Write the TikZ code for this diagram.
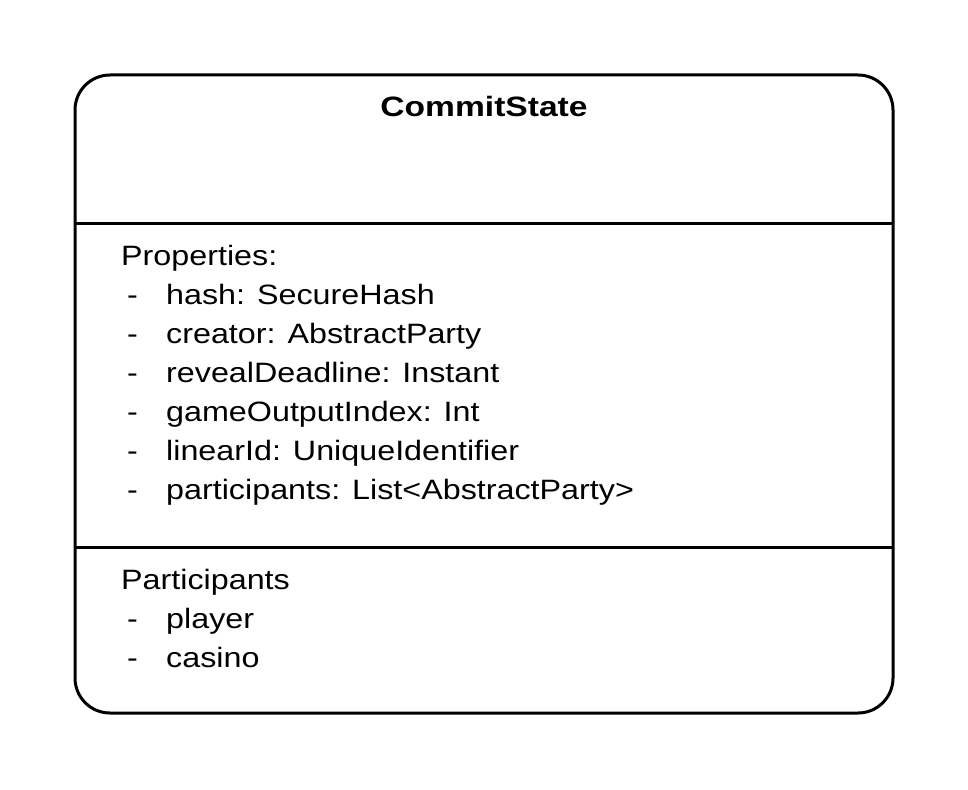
\documentclass[tikz,border=0pt]{standalone}
\usepackage{fontspec}
\setmainfont{Liberation Sans}
\newcommand{\sx}[1]{\scalebox{1.153}[1]{#1}}
\begin{document}
\begin{tikzpicture}[x=1pt,y=-1pt,
  txt/.style={anchor=base west,inner sep=0pt,font=\fontsize{28}{34}\selectfont},
  ttl/.style={anchor=base,inner sep=0pt,font=\fontsize{28}{34}\selectfont\bfseries},
  frame/.style={draw=black,line width=3pt,rounded corners=35pt}]
\useasboundingbox (0,0) rectangle (968,789);
\draw[frame] (75,75) rectangle (893,713);
\draw[line width=3pt] (75,223) -- (893,223);
\draw[line width=3pt] (75,547) -- (893,547);
\node[ttl] (title) at (484,117) {\scalebox{1.2}[1]{CommitState}};
\node[txt] (props) at (121,265) {\sx{Properties:}};
\foreach \y/\t [count=\i] in {304/{hash: SecureHash},343/{creator: AbstractParty},382/{revealDeadline: Instant},421/{gameOutputIndex: Int},460/{linearId: UniqueIdentifier},499/{participants: List<AbstractParty>}}{
  \node[txt] (d\i) at (127,\y) {\sx{-}};
  \node[txt] (p\i) at (166,\y) {\sx{\t}};
}
\node[txt] (parts) at (121,589) {\sx{Participants}};
\node[txt] (dpl) at (127,628) {\sx{-}};
\node[txt] (pl) at (166,628) {\sx{player}};
\node[txt] (dca) at (127,667) {\sx{-}};
\node[txt] (ca) at (166,667) {\sx{casino}};
\end{tikzpicture}
\end{document}
